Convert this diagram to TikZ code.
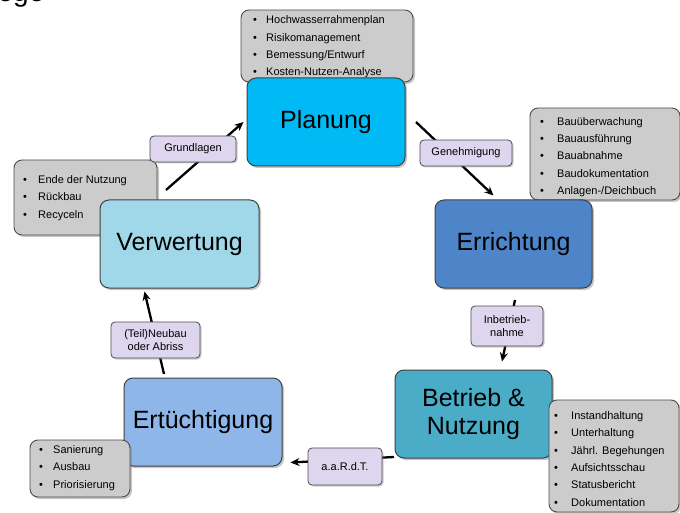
\documentclass[tikz,border=0pt]{standalone}
\usepackage{fontspec}
\setmainfont{Liberation Sans}
\usetikzlibrary{shadows,arrows.meta}
\definecolor{cPlan}{RGB}{0,186,245}
\definecolor{cErr}{RGB}{78,132,200}
\definecolor{cBet}{RGB}{75,172,200}
\definecolor{cErt}{RGB}{142,182,232}
\definecolor{cVer}{RGB}{160,216,234}
\definecolor{cLab}{RGB}{222,214,238}
\definecolor{cList}{RGB}{204,204,204}
\newcommand\bl[2]{\makebox[#1][l]{\textbullet}#2}
\tikzset{
  mainbox/.style={draw=black!75, line width=1pt, rounded corners=9pt,
    drop shadow={opacity=0.45, shadow xshift=2pt, shadow yshift=-2pt},
    font=\fontsize{25}{28}\selectfont, align=center},
  listbox/.style={draw=black!70, line width=0.9pt, fill=cList, rounded corners=8pt,
    drop shadow={opacity=0.45, shadow xshift=2pt, shadow yshift=-2pt}},
  listtext/.style={anchor=west, align=left, inner sep=0pt,
    font=\fontsize{11}{17.3}\selectfont},
  labbox/.style={draw=black!70, line width=0.8pt, fill=cLab, rounded corners=4pt,
    drop shadow={opacity=0.4, shadow xshift=1.5pt, shadow yshift=-1.5pt},
    font=\fontsize{11}{12.5}\selectfont, align=center, inner sep=1pt},
  arr/.style={line width=2.3pt, -{Stealth[length=9pt,width=8pt]}}
}
\begin{document}
\begin{tikzpicture}[x=1pt,y=-1pt]
\useasboundingbox (0,0) rectangle (680,513);
\clip (0,0) rectangle (680,513);
\node[anchor=base, font=\fontsize{28}{30}\selectfont] (frag) at (21,2) {ege};
% arrow start points
\coordinate (a1s) at (166,190);
\coordinate (a2s) at (416,122);
\coordinate (a3s) at (515,300);
\coordinate (a4s) at (394,457);
\coordinate (a5s) at (164,374);
% list boxes behind main boxes
\node[listbox, minimum width=172pt, minimum height=72pt] (l1) at (327,46) {};
\node[listtext] (t1) at (253,47) {\bl{13pt}{Hochwasserrahmenplan}\\ \bl{13pt}{Risikomanagement}\\ \bl{13pt}{Bemessung/Entwurf}\\ \bl{13pt}{Kosten-Nutzen-Analyse}};
\node[listbox, minimum width=150pt, minimum height=92pt] (l2) at (605,154) {};
\node[listtext] (t2) at (540,157) {\bl{17pt}{Bauüberwachung}\\ \bl{17pt}{Bauausführung}\\ \bl{17pt}{Bauabnahme}\\ \bl{17pt}{Baudokumentation}\\ \bl{17pt}{Anlagen-/Deichbuch}};
\node[listbox, minimum width=143pt, minimum height=75pt] (l3) at (85.5,197.5) {};
\node[listtext] (t3) at (23,198) {\bl{15pt}{Ende der Nutzung}\\ \bl{15pt}{Rückbau}\\ \bl{15pt}{Recyceln}};
% main boxes
\node[mainbox, fill=cPlan, minimum width=158pt, minimum height=88pt] (plan) at (326,122) {Planung};
\node[mainbox, fill=cErr, minimum width=157pt, minimum height=88pt] (err) at (513.5,244) {Errichtung};
\node[mainbox, fill=cBet, minimum width=157pt, minimum height=88pt] (bet) at (473.5,414) {Betrieb \&\\Nutzung};
\node[mainbox, fill=cErt, minimum width=158pt, minimum height=88pt] (ert) at (203,422) {Ertüchtigung};
\node[mainbox, fill=cVer, minimum width=159pt, minimum height=88pt] (ver) at (179.5,244) {Verwertung};
% connectors
\draw[arr] (a1s) -- ([xshift=-3pt]plan.west);
\draw[arr] (a2s) -- ([xshift=-20pt,yshift=4pt]err.north);
\draw[arr] (a3s) -- ([xshift=28.5pt,yshift=8pt]bet.north);
\draw[arr] (a4s) -- ([xshift=8pt,yshift=4pt]ert.south east);
\draw[arr] (a5s) -- ([xshift=-35pt,yshift=-3pt]ver.south);
% lists in front
\node[listbox, minimum width=130pt, minimum height=112pt] (l4) at (614,456) {};
\node[listtext] (t4) at (554,459) {\bl{17pt}{Instandhaltung}\\ \bl{17pt}{Unterhaltung}\\ \bl{17pt}{Jährl. Begehungen}\\ \bl{17pt}{Aufsichtsschau}\\ \bl{17pt}{Statusbericht}\\ \bl{17pt}{Dokumentation}};
\node[listbox, minimum width=100pt, minimum height=57pt] (l5) at (80,468.5) {};
\node[listtext] (t5) at (39,468) {\bl{14pt}{Sanierung}\\ \bl{14pt}{Ausbau}\\ \bl{14pt}{Priorisierung}};
% labels
\node[labbox, minimum width=86pt, minimum height=26pt] (g1) at (193,149) {Grundlagen};
\node[labbox, minimum width=92pt, minimum height=26pt] (g2) at (466,153) {Genehmigung};
\node[labbox, minimum width=72pt, minimum height=40pt] (g3) at (507,326) {Inbetrieb-\\nahme};
\node[labbox, minimum width=89pt, minimum height=36pt] (g4) at (155.5,340) {(Teil)Neubau\\oder Abriss};
\node[labbox, minimum width=74pt, minimum height=37pt] (g5) at (345,466.5) {a.a.R.d.T.};
\end{tikzpicture}
\end{document}
